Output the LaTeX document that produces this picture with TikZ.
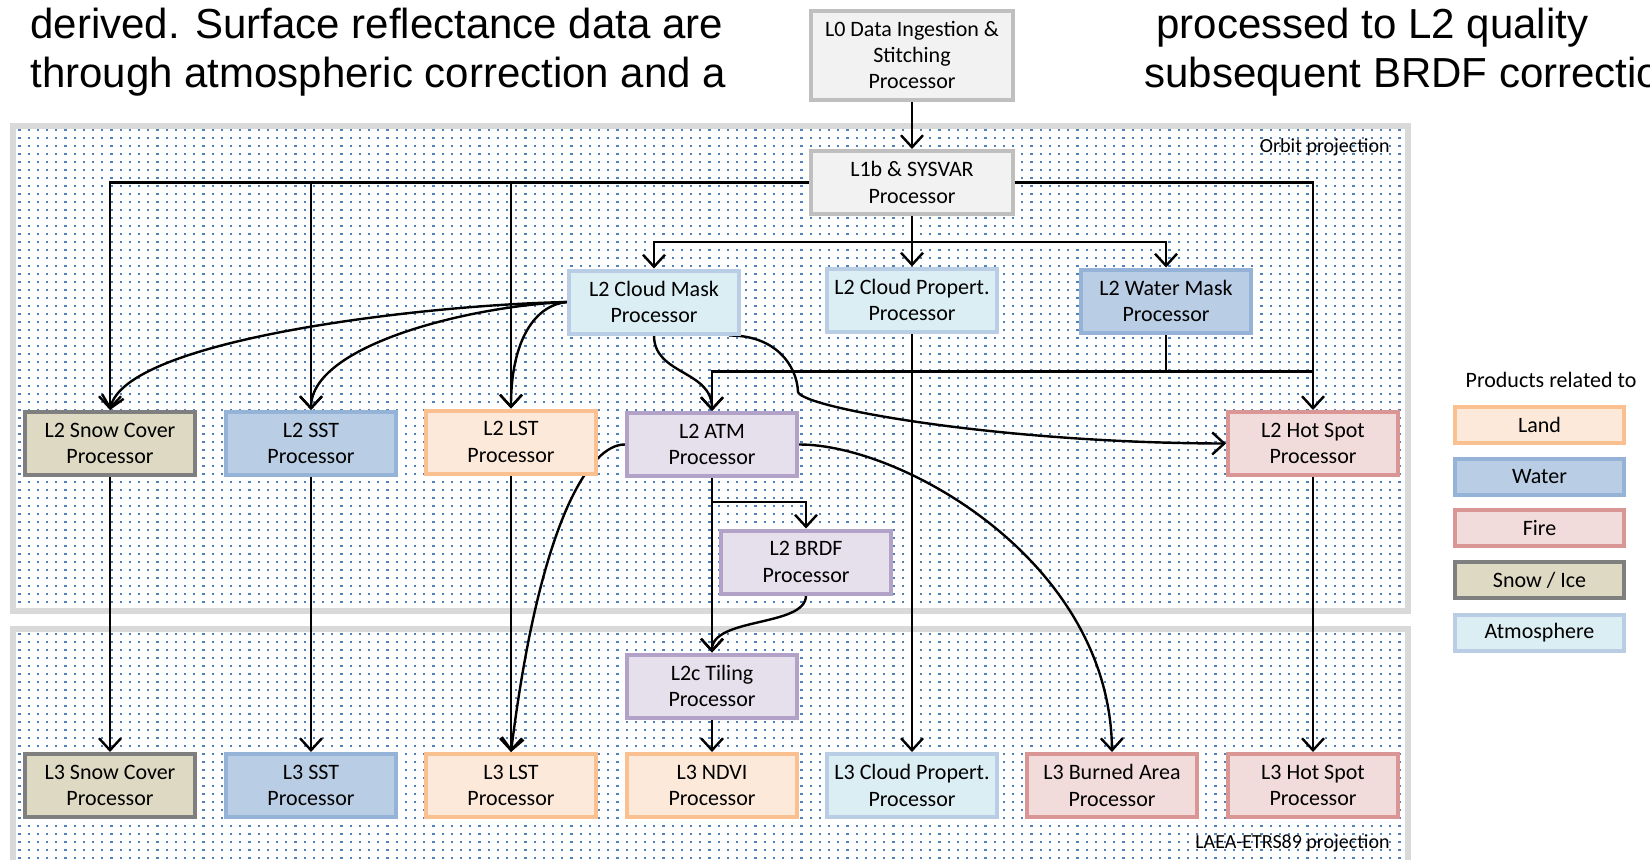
\documentclass[tikz,border=0pt]{standalone}
\usepackage{fontspec}
\setmainfont{Carlito}
\newfontfamily\headfont{Liberation Sans}
\usetikzlibrary{arrows.meta,patterns}
\pgfdeclarelayer{bg}
\pgfdeclarelayer{edges}
\pgfsetlayers{bg,edges,main}
\definecolor{dotblue}{HTML}{4F81BD}
\definecolor{panelgray}{HTML}{D9D9D9}
\definecolor{landF}{HTML}{FDE9D9}\definecolor{landD}{HTML}{FAC090}
\definecolor{waterF}{HTML}{B9CDE5}\definecolor{waterD}{HTML}{95B3D7}
\definecolor{fireF}{HTML}{F2DCDB}\definecolor{fireD}{HTML}{D99694}
\definecolor{snowF}{HTML}{DDD9C3}\definecolor{snowD}{HTML}{7F7F7F}
\definecolor{atmoF}{HTML}{DBEEF4}\definecolor{atmoD}{HTML}{B9CDE5}
\definecolor{purpF}{HTML}{E5E0EC}\definecolor{purpD}{HTML}{B3A2C7}
\definecolor{greyF}{HTML}{F2F2F2}\definecolor{greyD}{HTML}{BFBFBF}
\pgfdeclarepatternformonly{bluedots}{\pgfpoint{-0.5pt}{-0.5pt}}{\pgfpoint{5pt}{4.5pt}}{\pgfpoint{4.6pt}{4pt}}{%
  \pgfpathrectangle{\pgfpoint{0pt}{0pt}}{\pgfpoint{1.1pt}{1.1pt}}\pgfusepath{fill}}
\tikzset{
  box/.style={draw, line width=2pt, minimum width=85pt, minimum height=31.5pt, align=center, inner sep=1pt, font=\fontsize{11}{13.2}\selectfont},
  landbox/.style={box, draw=landD, fill=landF},
  waterbox/.style={box, draw=waterD, fill=waterF},
  firebox/.style={box, draw=fireD, fill=fireF},
  snowbox/.style={box, draw=snowD, fill=snowF},
  atmobox/.style={box, draw=atmoD, fill=atmoF},
  purpbox/.style={box, draw=purpD, fill=purpF},
  greybox/.style={box, draw=greyD, fill=greyF, minimum width=101pt},
  legbox/.style={draw, line width=2pt, minimum width=84.5pt, minimum height=18pt, inner sep=0pt, font=\fontsize{11}{13}\selectfont},
  conn/.style={line width=1.2pt, black},
  arr/.style={conn, -{Straight Barb[length=6pt,width=11pt,line width=1.2pt]}},
  lbl/.style={font=\fontsize{10}{12}\selectfont, inner sep=0pt},
  headtxt/.style={font=\headfont\fontsize{21}{25}\selectfont, inner sep=0pt},
  panel/.style={draw=panelgray, line width=3pt}
}
\begin{document}
\begin{tikzpicture}[x=0.5pt,y=-0.5pt]
\useasboundingbox (0,0) rectangle (1650,859);

% panels
\begin{pgfonlayer}{bg}
  \fill[white] (0,0) rectangle (1650,859);
  \fill[pattern=bluedots, pattern color=dotblue] (12.5,126) rectangle (1408,611);
  \draw[panel] (12.5,126) rectangle (1408,611);
  \fill[pattern=bluedots, pattern color=dotblue] (12.5,629) rectangle (1408,880);
  \draw[panel] (12.5,629) rectangle (1408,880);
\end{pgfonlayer}

% header text
\node[headtxt, anchor=base west] (h1) at (30,38) {derived. Surface reflectance data are};
\node[headtxt, anchor=base west] (h2) at (30,87) {through atmospheric correction and a};
\node[headtxt, anchor=base west] (h3) at (1156,38) {processed to L2 quality};
\node[headtxt, anchor=base west] (h4) at (1144,87) {subsequent BRDF correction};

% panel labels
\node[lbl, anchor=base east] (orb) at (1390,152) {Orbit projection};
\node[lbl, anchor=base east] (laea) at (1390,848) {LAEA-ETRS89 projection};

% boxes
\node[greybox, minimum height=44.5pt] (L0) at (912,55) {L0 Data Ingestion \&\\Stitching\\Processor};
\node[greybox] (L1b) at (912,182.5) {L1b \& SYSVAR\\Processor};
\node[atmobox] (cm) at (654,302) {L2 Cloud Mask\\Processor};
\node[atmobox] (cp) at (912,300) {L2 Cloud Propert.\\Processor};
\node[waterbox] (wm) at (1166,301) {L2 Water Mask\\Processor};

\node[snowbox] (sc2) at (110,443.5) {L2 Snow Cover\\Processor};
\node[waterbox] (sst2) at (311,443.5) {L2 SST\\Processor};
\node[landbox] (lst2) at (511,442) {L2 LST\\Processor};
\node[purpbox] (atm2) at (712,444.5) {L2 ATM\\Processor};
\node[firebox] (hs2) at (1313,443.5) {L2 Hot Spot\\Processor};
\node[purpbox] (brdf) at (806,562) {L2 BRDF\\Processor};
\node[purpbox] (tile) at (712,686) {L2c Tiling\\Processor};

\node[snowbox] (sc3) at (110,785.5) {L3 Snow Cover\\Processor};
\node[waterbox] (sst3) at (311,785.5) {L3 SST\\Processor};
\node[landbox] (lst3) at (511,785.5) {L3 LST\\Processor};
\node[landbox] (ndvi) at (712,785.5) {L3 NDVI\\Processor};
\node[atmobox] (cp3) at (912,785.5) {L3 Cloud Propert.\\Processor};
\node[firebox] (ba3) at (1112,785.5) {L3 Burned Area\\Processor};
\node[firebox] (hs3) at (1313,785.5) {L3 Hot Spot\\Processor};

% legend
\node[lbl, font=\fontsize{11}{13}\selectfont, anchor=base] (legt) at (1551,387) {Products related to};
\node[legbox, draw=landD, fill=landF] (lg1) at (1539.5,425) {Land};
\node[legbox, draw=waterD, fill=waterF] (lg2) at (1539.5,477) {Water};
\node[legbox, draw=fireD, fill=fireF] (lg3) at (1539.5,528) {Fire};
\node[legbox, draw=snowD, fill=snowF] (lg4) at (1539.5,580) {Snow / Ice};
\node[legbox, draw=atmoD, fill=atmoF] (lg5) at (1539.5,632.5) {Atmosphere};

% junction coordinates
\coordinate (jA) at (912,242);
\coordinate (jW) at (1166,371.5);
\coordinate (jB) at (712,502);
\coordinate (kink) at (798,392);

\begin{pgfonlayer}{edges}
  \draw[arr] (L0) -- (L1b);
  % L1b west branches
  \draw[arr] (L1b.west) -| (sc2.north);
  \draw[arr] (L1b.west -| sst2.north) -- (sst2.north);
  \draw[arr] (L1b.west -| lst2.north) -- (lst2.north);
  % L1b east
  \draw[arr] (L1b.east) -| (hs2.north);
  % L1b down
  \draw[arr] (L1b.south) -- (cp.north);
  \draw[arr] (jA) -| (cm.north);
  \draw[arr] (jA) -| (wm.north);
  % water mask
  \draw[conn] (wm.south) -- (jW);
  \draw[arr] (jW) -| (atm2.north);
  \draw[conn] (jW) -- (hs2.north |- jW);
  % cloud mask curves
  \draw[arr] (cm.west) .. controls (420,305) and (125,340) .. (sc2.north);
  \draw[arr] (cm.west) .. controls (470,306) and (311,345) .. (sst2.north);
  \draw[arr] (cm.west) .. controls (535,305) and (511,340) .. (lst2.north);
  \draw[arr] (cm.south) .. controls (654,375) and (712,370) .. (atm2.north);
  \draw[arr] ([xshift=-6pt]cm.south east) .. controls (775,335) and (797,365) .. (kink)
     .. controls (803,408) and (1000,443) .. (hs2.west);
  % cloud propert.
  \draw[arr] (cp.south) -- (cp3.north);
  % ATM
  \draw[arr] (atm2.west) .. controls (590,444) and (540,520) .. (lst3.north);
  \draw[arr] (atm2.east) .. controls (900,444) and (1110,560) .. (ba3.north);
  \draw[arr] (atm2.south) -- (tile.north);
  \draw[arr] (jB) -| (brdf.north);
  \draw[arr] (brdf.south) .. controls (806,627) and (712,617) .. (tile.north);
  \draw[arr] (tile.south) -- (ndvi.north);
  % L2 -> L3 verticals
  \draw[arr] (sc2.south) -- (sc3.north);
  \draw[arr] (sst2.south) -- (sst3.north);
  \draw[arr] (lst2.south) -- (lst3.north);
  \draw[arr] (hs2.south) -- (hs3.north);
\end{pgfonlayer}
\end{tikzpicture}
\end{document}
